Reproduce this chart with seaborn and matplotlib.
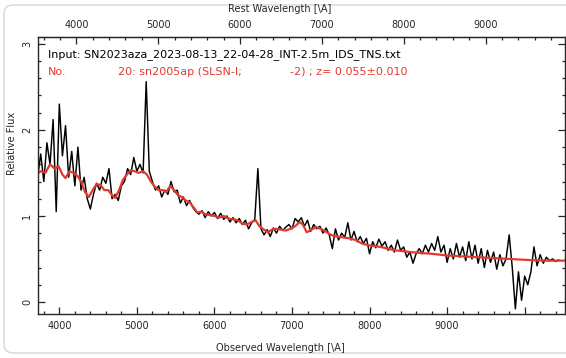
import numpy as np
import pandas as pd
import matplotlib.pyplot as plt
from matplotlib.patches import FancyBboxPatch
from matplotlib.transforms import IdentityTransform
from matplotlib.ticker import MultipleLocator, FixedLocator, FuncFormatter
import seaborn as sns

sns.set_style("ticks")
plt.rcParams['font.family'] = ['DejaVu Sans']

# redshift of the best match
z_match = 0.055

# observed spectrum, sampled every 40 A from 3720 A
obs_start, obs_step = 3720, 40
obs_flux = [
    1.45, 1.72, 1.40, 1.85, 1.60, 2.12, 1.05, 2.30, 1.70, 2.05,
    1.45, 1.75, 1.35, 1.80, 1.30, 1.45, 1.20, 1.08, 1.25, 1.38,
    1.30, 1.45, 1.38, 1.55, 1.20, 1.25, 1.18, 1.35, 1.40, 1.55,
    1.48, 1.68, 1.52, 1.60, 1.50, 2.56, 1.52, 1.40, 1.30, 1.35,
    1.22, 1.30, 1.25, 1.40, 1.28, 1.30, 1.15, 1.22, 1.12, 1.18,
    1.10, 1.05, 1.02, 1.06, 0.98, 1.05, 1.00, 1.04, 0.97, 1.03,
    0.96, 1.00, 0.93, 0.98, 0.92, 0.97, 0.90, 0.95, 0.85, 0.92,
    0.96, 1.55, 0.85, 0.78, 0.84, 0.76, 0.86, 0.80, 0.88, 0.83,
    0.87, 0.90, 0.85, 0.97, 0.93, 0.98, 0.88, 0.95, 0.82, 0.90,
    0.85, 0.88, 0.80, 0.86, 0.78, 0.62, 0.85, 0.72, 0.80, 0.75,
    0.92, 0.72, 0.82, 0.70, 0.76, 0.68, 0.74, 0.56, 0.70, 0.63,
    0.73, 0.65, 0.70, 0.60, 0.66, 0.58, 0.72, 0.60, 0.64, 0.52,
    0.58, 0.45, 0.56, 0.62, 0.56, 0.66, 0.58, 0.68, 0.60, 0.76,
    0.58, 0.66, 0.46, 0.62, 0.50, 0.68, 0.52, 0.64, 0.48, 0.70,
    0.50, 0.66, 0.45, 0.62, 0.40, 0.60, 0.46, 0.58, 0.38, 0.55,
    0.42, 0.50, 0.78, 0.40, -0.08, 0.35, 0.02, 0.30, 0.20, 0.35,
    0.64, 0.42, 0.55, 0.45, 0.52, 0.48, 0.50, 0.47, 0.49,
]
obs_wave = obs_start + obs_step * np.arange(len(obs_flux))

# template sn2005ap (SLSN-I), shifted to z=0.055
tmpl_wave = [
    3700, 3760, 3820, 3880, 3940, 3990, 4040, 4080, 4130, 4180,
    4230, 4280, 4330, 4380, 4430, 4480, 4530, 4580, 4630, 4680,
    4720, 4770, 4820, 4870, 4920, 4970, 5020, 5080, 5130, 5180,
    5230, 5280, 5330, 5380, 5430, 5480, 5530, 5580, 5630, 5680,
    5730, 5780, 5830, 5880, 5940, 6000, 6060, 6120, 6180, 6240,
    6300, 6360, 6420, 6480, 6530, 6580, 6640, 6690, 6740, 6800,
    6860, 6920, 6980, 7040, 7100, 7140, 7190, 7250, 7310, 7370,
    7430, 7500, 7580, 7660, 7740, 7820, 7900, 7980, 8060, 8140,
    8230, 8330, 8430, 8530, 8650, 8800, 9000, 9200, 9400, 9600,
    9800, 10000, 10250, 10550,
]
tmpl_flux = [
    1.48, 1.52, 1.50, 1.60, 1.55, 1.58, 1.48, 1.44, 1.52, 1.50,
    1.47, 1.40, 1.28, 1.22, 1.30, 1.37, 1.36, 1.30, 1.30, 1.24,
    1.21, 1.30, 1.42, 1.48, 1.53, 1.52, 1.50, 1.52, 1.48, 1.40,
    1.34, 1.30, 1.30, 1.28, 1.35, 1.30, 1.24, 1.22, 1.18, 1.16,
    1.10, 1.04, 1.05, 1.02, 1.01, 1.00, 0.98, 1.00, 0.97, 0.96,
    0.95, 0.91, 0.90, 0.93, 0.95, 0.88, 0.84, 0.81, 0.84, 0.85,
    0.84, 0.83, 0.85, 0.88, 0.93, 0.90, 0.81, 0.84, 0.87, 0.85,
    0.82, 0.78, 0.76, 0.75, 0.74, 0.72, 0.68, 0.66, 0.65, 0.64,
    0.62, 0.60, 0.59, 0.58, 0.57, 0.56, 0.54, 0.53, 0.52, 0.51,
    0.50, 0.49, 0.48, 0.48,
]

obs_ticks = [4000, 5000, 6000, 7000, 8000, 9000, 10000]
rest_ticks = [4000, 5000, 6000, 7000, 8000, 9000]

obs = pd.DataFrame({"wave": obs_wave, "flux": obs_flux})
tmpl = pd.DataFrame({"wave": tmpl_wave, "flux": tmpl_flux})

W, H = 566, 358
fig = plt.figure(figsize=(W / 100, H / 100), dpi=100)

# light rounded frame round the thumbnail
frame = FancyBboxPatch((4, 5), 600, 348, boxstyle="round,pad=0,rounding_size=9",
                       transform=IdentityTransform(), facecolor="none",
                       edgecolor="#d6d6d6", lw=1.0, zorder=-5)
fig.patches.append(frame)

ax = fig.add_axes([38 / W, 1 - 314 / H, (565 - 38) / W, (314 - 37) / H])
ax.set_facecolor("none")

sns.lineplot(data=obs, x="wave", y="flux", ax=ax, color="black", lw=1.05,
             estimator=None, sort=False)
sns.lineplot(data=tmpl, x="wave", y="flux", ax=ax, color="#e2392f", lw=1.6,
             estimator=None, sort=False)

ax.set_xlim(3725, 10520)
ax.set_ylim(-0.14, 3.08)
ax.set_xlabel("")
ax.set_ylabel("")

ax.xaxis.set_major_locator(FixedLocator(obs_ticks))
ax.xaxis.set_major_formatter(FuncFormatter(lambda v, p: f"{v:.0f}" if v < 9500 else ""))
ax.xaxis.set_minor_locator(MultipleLocator(200))
ax.yaxis.set_major_locator(MultipleLocator(1))
ax.yaxis.set_minor_locator(MultipleLocator(0.2))
ax.tick_params(which="both", direction="in", top=False, right=True,
               labelsize=7, width=0.9)
ax.tick_params(which="major", length=5)
ax.tick_params(which="minor", length=2.5)
ax.tick_params(axis="x", pad=5)
ax.tick_params(axis="y", pad=4)
for lab in ax.get_yticklabels():
    lab.set_rotation(90)
    lab.set_va("center")
for sp in ax.spines.values():
    sp.set_linewidth(1.0)
    sp.set_visible(True)

# rest-frame axis on top
top = ax.secondary_xaxis("top", functions=(lambda x: x / (1 + z_match),
                                           lambda x: x * (1 + z_match)))
top.set_xticks(rest_ticks)
top.xaxis.set_minor_locator(MultipleLocator(200))
top.tick_params(which="both", direction="in", labelsize=7, width=0.9, pad=5)
top.tick_params(which="major", length=5)
top.tick_params(which="minor", length=2.5)

def px(x, y):
    return x / W, 1 - y / H

fig.text(*px(280, 9), "Rest Wavelength [\\A]", ha="center", va="center", fontsize=7)
fig.text(*px(280, 348), "Observed Wavelength [\\A]", ha="center", va="center", fontsize=7)
fig.text(*px(12, 143), "Relative Flux", ha="center", va="center", fontsize=7,
         rotation=90)

fig.text(*px(48, 55), "Input: SN2023aza_2023-08-13_22-04-28_INT-2.5m_IDS_TNS.txt",
         ha="left", va="center", fontsize=8, color="black")
red_txt = "#e2392f"
fig.text(*px(48, 72), "No.", ha="left", va="center", fontsize=8, color=red_txt)
fig.text(*px(118, 72), "20: sn2005ap (SLSN-I;", ha="left", va="center",
         fontsize=8, color=red_txt)
fig.text(*px(290, 72), "-2) ; z= 0.055\u00b10.010", ha="left", va="center",
         fontsize=8, color=red_txt)

fig.savefig("out.png", dpi=100)
